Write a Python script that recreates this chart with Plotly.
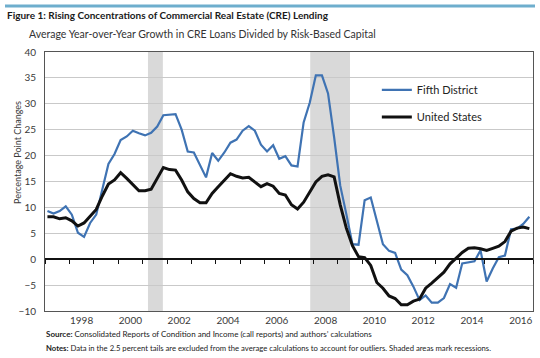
import plotly.graph_objects as go

# ---- data (quarterly, 1997Q1 - 2016Q4) ----
years = list(range(1997, 2017))
quarters = [(y, q) for y in years for q in range(1, 5)]

fifth_district = [
    9.3, 8.8, 9.3, 10.2, 8.6, 5.1, 4.3, 7.0, 8.6, 13.8,
    18.4, 20.3, 23.0, 23.7, 24.8, 24.3, 23.9, 24.4, 25.6, 27.8,
    27.9, 28.0, 25.0, 20.8, 20.6, 18.2, 15.8, 20.5, 19.0, 20.6,
    22.5, 23.1, 24.8, 25.7, 24.8, 22.1, 20.8, 22.0, 19.4, 19.9,
    18.1, 17.9, 26.4, 30.2, 35.5, 35.5, 32.0, 23.5, 14.2, 8.7,
    2.9, 2.8, 11.4, 11.9, 7.3, 2.9, 1.6, 1.2, -2.0, -3.1,
    -5.3, -7.9, -7.0, -8.4, -8.4, -7.5, -4.8, -5.5, -0.8, -0.6,
    -0.4, 1.7, -4.3, -1.8, 0.4, 0.7, 5.8, 5.9, 6.8, 8.2,
]
united_states = [
    8.2, 8.2, 7.8, 8.0, 7.4, 6.4, 7.0, 8.2, 9.6, 12.2,
    14.5, 15.3, 16.7, 15.6, 14.3, 13.2, 13.2, 13.5, 15.6, 17.7,
    17.3, 17.2, 15.3, 13.0, 11.7, 10.9, 10.9, 12.7, 14.0, 15.3,
    16.5, 16.0, 15.7, 15.8, 14.9, 14.0, 14.6, 14.1, 12.7, 12.4,
    10.5, 9.7, 11.0, 13.0, 14.9, 16.0, 16.3, 15.9, 10.5, 6.0,
    2.6, 0.5, 0.3, -1.2, -4.5, -5.6, -7.1, -7.6, -8.8, -8.8,
    -8.1, -7.7, -5.6, -4.6, -3.6, -2.5, -0.9, 0.2, 1.3, 2.1,
    2.2, 2.0, 1.7, 2.1, 2.5, 3.4, 5.4, 6.0, 6.2, 5.9,
]
recession_start = [2001.22, 2007.87]
recession_end = [2001.83, 2009.50]
tick_years = [1998, 2000, 2002, 2004, 2006, 2008, 2010, 2012, 2014, 2016]
y_ticks = [-10, -5, 0, 5, 10, 15, 20, 25, 30, 35, 40]

x_pos = [y + (q - 1) * 0.25 + 0.1 for (y, q) in quarters]

FONT = "Lato, 'Open Sans', sans-serif"
BLUE = "#3f73b3"

fig = go.Figure()
fig.add_trace(go.Scatter(
    x=x_pos, y=fifth_district, mode="lines", name="Fifth District",
    line=dict(color=BLUE, width=2.2), legend="legend", hoverinfo="skip"))
fig.add_trace(go.Scatter(
    x=x_pos, y=united_states, mode="lines", name="United States",
    line=dict(color="#111111", width=3), legend="legend2", hoverinfo="skip"))
# invisible trace carrying the zero-line axis with yearly ticks
fig.add_trace(go.Scatter(
    x=x_pos, y=united_states, mode="lines", xaxis="x2", yaxis="y",
    line=dict(width=0), opacity=0, showlegend=False, hoverinfo="skip"))

for s, e in zip(recession_start, recession_end):
    fig.add_shape(type="rect", xref="x", yref="paper", x0=s, x1=e, y0=0, y1=1,
                  fillcolor="#d9d9d9", line=dict(width=0), layer="between")

axis_font = dict(family=FONT, size=10, color="#3a3a3a")

fig.update_layout(
    width=540, height=358,
    margin=dict(l=45, r=7, t=52, b=47),
    paper_bgcolor="white", plot_bgcolor="white",
    font=dict(family=FONT, color="#222"),
    xaxis=dict(range=[1997, 2017], tickmode="array",
               tickvals=[y + 0.5 for y in tick_years],
               ticktext=[str(y) for y in tick_years],
               showgrid=False, zeroline=False, ticks="",
               showline=True, linecolor="#555", linewidth=1, mirror=True,
               tickfont=axis_font),
    xaxis2=dict(range=[1997, 2017], overlaying="x", anchor="free", position=0.2,
                side="bottom", showgrid=False, zeroline=False,
                showline=True, linecolor="#111", linewidth=1.5,
                ticks="outside", ticklen=4, tickwidth=1, tickcolor="#111",
                tickmode="linear", tick0=1997, dtick=1, showticklabels=False),
    yaxis=dict(range=[-10, 40], tickmode="array", tickvals=y_ticks,
               showgrid=True, gridcolor="#c9c9c9", gridwidth=1,
               zeroline=False, ticks="", showline=True, linecolor="#555",
               linewidth=1, mirror=True, tickfont=axis_font,
               ticklabelstandoff=6),
    legend=dict(x=0.680, y=0.854, xanchor="left", yanchor="middle",
                bgcolor="rgba(0,0,0,0)", font=dict(family=FONT, size=11, color="#222"),
                itemwidth=30),
    legend2=dict(x=0.680, y=0.749, xanchor="left", yanchor="middle",
                 bgcolor="rgba(0,0,0,0)", font=dict(family=FONT, size=11, color="#222"),
                 itemwidth=30),
    showlegend=True,
)

# top rule
fig.add_shape(type="line", xref="paper", yref="paper",
              x0=(5 - 45) / 488, x1=(535 - 45) / 488,
              y0=(311 - 6) / 259, y1=(311 - 6) / 259,
              line=dict(color="#6eaecd", width=3))

def ann(text, xpx, ypx, size, color="#222", xanchor="left", **kw):
    fig.add_annotation(text=text, xref="paper", yref="paper",
                       x=(xpx - 45) / 488, y=(311 - ypx) / 259,
                       xanchor=xanchor, yanchor="middle", showarrow=False,
                       font=dict(family=FONT, size=size, color=color), **kw)

ann("<b>Figure 1: Rising Concentrations of Commercial Real Estate (CRE) Lending</b>",
    5, 15, 10, "#1a1a1a")
ann("Average Year-over-Year Growth in CRE Loans Divided by Risk-Based Capital",
    27, 34, 10.5, "#333")
ann("Percentage Point Changes", 17, 153, 9, "#3a3a3a", xanchor="center", textangle=-90)
ann("<b>Source:</b> Consolidated Reports of Condition and Income (call reports) and authors’ calculations",
    44, 334, 8, "#222")
ann("<b>Notes:</b> Data in the 2.5 percent tails are excluded from the average calculations to account for outliers. Shaded areas mark recessions.",
    44, 348, 7.7, "#222")

fig.write_html("out.html", config={"displayModeBar": False},
               post_script="document.body.style.margin='0';")
